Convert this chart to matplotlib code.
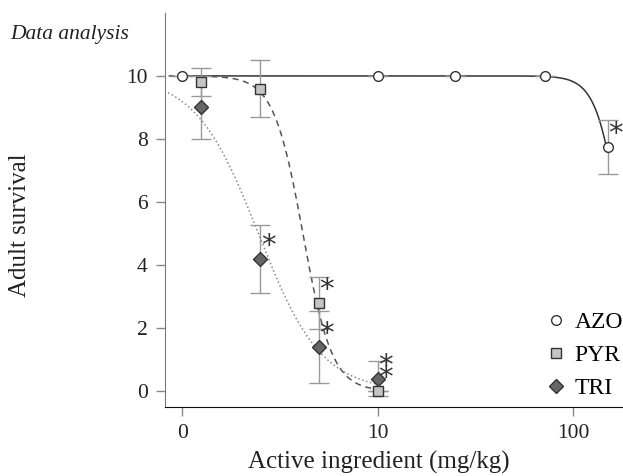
import numpy as np
import matplotlib.pyplot as plt

# --- DONNEES ---
azo_dose = np.array([0, 10, 25, 72, 150])
azo_mean = np.array([10.0, 10.0, 10.0, 10.0, 7.75])
azo_err = np.array([0, 0, 0, 0, 0.85])

pyr_dose = np.array([1.25, 2.5, 5, 10])
pyr_mean = np.array([9.8, 9.6, 2.8, 0.0])
pyr_err = np.array([0.45, 0.9, 0.82, 0])

tri_dose = np.array([1.25, 2.5, 5, 10])
tri_mean = np.array([9.0, 4.2, 1.4, 0.4])
tri_err = np.array([1.0, 1.08, 1.15, 0.55])

# courbes ajustées (log-logistique) : EC50, pente, début, fin
azo_fit = (176.6, 7.0, 1.0, 150)
pyr_fit = (4.14, 5.8, 0.85, 10)
tri_fit = (2.45, 2.7, 0.845, 10)

# points significatifs (*) : (dose, moyenne)
stars = [(150, 7.75), (2.5, 4.2), (5, 2.8), (5, 1.4), (10, 0.4), (10, 0.0)]

x_ticks = [0, 10, 100]


def pos(d):
    # la dose 0 est placée en 1 sur l'axe logarithmique
    d = np.asarray(d, dtype=float)
    return np.where(d == 0, 1.0, d)


def loglogistic(fit):
    ec, h, x0, x1 = fit
    x = np.logspace(np.log10(x0), np.log10(x1), 300)
    return x, 10.0 / (1 + (x / ec) ** h)


plt.rcParams['font.family'] = ['Liberation Serif', 'DejaVu Serif']
fig = plt.figure(figsize=(6.23, 4.76), dpi=100)
ax = fig.add_axes([0.265, 0.145, 0.735, 0.828])

x, y = loglogistic(azo_fit)
ax.plot(x, y, '-', color='#333333', lw=1.1, zorder=2)
x, y = loglogistic(pyr_fit)
ax.plot(x, y, '--', color='#555555', lw=1.1, dashes=(4, 3), zorder=2)
x, y = loglogistic(tri_fit)
ax.plot(x, y, ':', color='#888888', lw=1.1, zorder=2)

eb = dict(fmt='none', ecolor='#999999', elinewidth=1, capsize=7, capthick=1, zorder=3)
ax.errorbar(pos(azo_dose), azo_mean, yerr=azo_err, **eb)
ax.errorbar(pos(pyr_dose), pyr_mean, yerr=pyr_err, **eb)
ax.errorbar(pos(tri_dose), tri_mean, yerr=tri_err, **eb)

ax.plot(pos(azo_dose), azo_mean, 'o', ms=7, mfc='white', mec='#333333', mew=1, ls='none', zorder=4, label='AZO')
ax.plot(pos(pyr_dose), pyr_mean, 's', ms=7, mfc='#c4c4c4', mec='#333333', mew=1, ls='none', zorder=4, label='PYR')
ax.plot(pos(tri_dose), tri_mean, 'D', ms=7.5, mfc='#666666', mec='#333333', mew=1, ls='none', zorder=4, label='TRI')

for d, m in stars:
    ax.annotate('*', (pos(d), m), xytext=(8, 13), textcoords='offset pixels',
                ha='center', va='center', fontsize=21, color='#333333',
                family=['DejaVu Sans'], zorder=5)

ax.set_xscale('log')
ax.set_xlim(0.816, 180)
ax.set_ylim(-0.5, 12)
ax.set_xticks(pos(x_ticks))
ax.set_xticklabels([str(t) for t in x_ticks])
ax.xaxis.set_minor_locator(plt.NullLocator())
ax.set_yticks([0, 2, 4, 6, 8, 10])

for s in ['top', 'right']:
    ax.spines[s].set_visible(False)
ax.spines['left'].set_color('#777777')
ax.spines['bottom'].set_color('#111111')
ax.tick_params(axis='both', direction='out', length=6.5, width=1, color='#888888',
               labelsize=15.5, pad=6, labelcolor='#222222')

ax.set_xlabel('Active ingredient (mg/kg)', fontsize=18, color='#222222')
ax.set_ylabel('Adult survival', fontsize=18, color='#222222')
ax.xaxis.set_label_coords(0.467, -0.112)
ax.yaxis.set_label_coords(-0.292, 0.462)

fig.text(10 / 623, 1 - 39 / 476, 'Data analysis', fontsize=15.5, style='italic',
         ha='left', va='baseline', color='#222222')

ax.legend(loc='lower right', bbox_to_anchor=(1.0, 0.02), frameon=False,
          fontsize=17, handlelength=0.8, handletextpad=0.4, labelspacing=0.48,
          borderaxespad=0, borderpad=0)

fig.savefig('out.png', dpi=100)
